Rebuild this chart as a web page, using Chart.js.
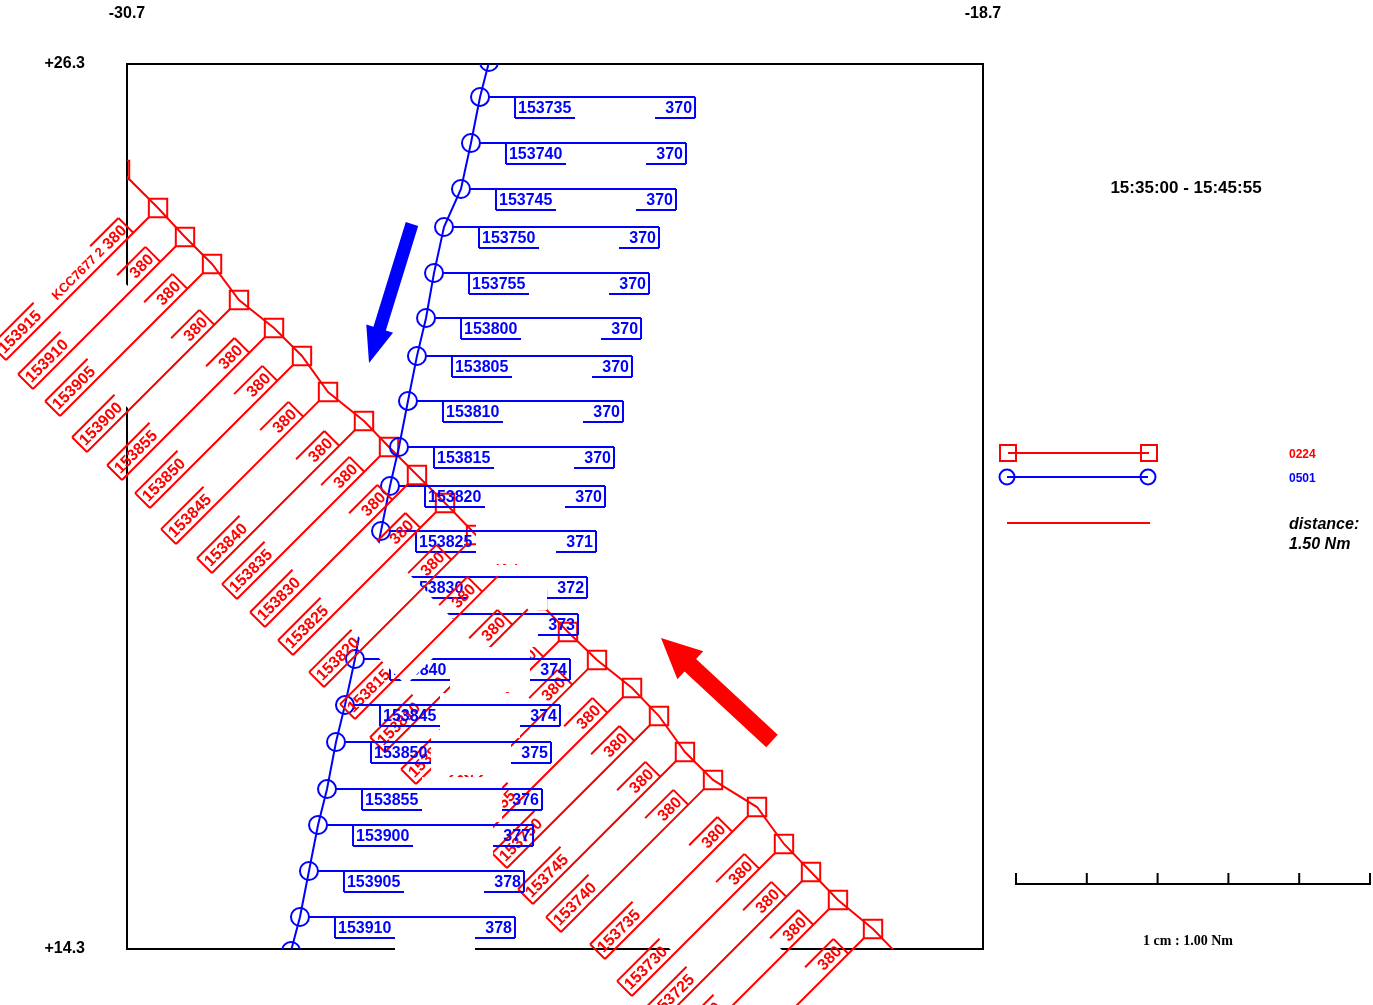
<!DOCTYPE html>
<html lang="en">
<head>
<meta charset="UTF-8">
<title>Track plot 0224 / 0501</title>
<script src="https://cdn.jsdelivr.net/npm/chart.js"></script>
<style>
  body { margin: 0; background: #fff; }
  #wrap { width: 1373px; height: 1005px; }
</style>
</head>
<body>
<div id="wrap"><canvas id="plot" width="1373" height="1005"></canvas></div>
<script>
// plot window and corner labels
const xRange = [-30.7, -18.7];
const yRange = [14.3, 26.3];
const xTickLabels = ['-30.7', '-18.7'];
const yTickLabels = ['+14.3', '+26.3'];

// track 0501 (blue, circles), top to bottom
const blueTimes = ['153730', '153735', '153740', '153745', '153750', '153755', '153800', '153805', '153810', '153815', '153820',
                   '153825', '153830', '153835', '153840', '153845', '153850', '153855', '153900', '153905', '153910', '153915'];
const blueX = [-25.625, -25.751, -25.878, -26.018, -26.256, -26.396, -26.508, -26.635, -26.761, -26.887, -27.013,
               -27.139, -27.265, -27.392, -27.504, -27.644, -27.770, -27.896, -28.022, -28.149, -28.275, -28.401];
const blueY = [26.327, 25.853, 25.229, 24.605, 24.090, 23.466, 22.856, 22.341, 21.731, 21.107, 20.578,
               19.968, 19.344, 18.842, 18.232, 17.608, 17.107, 16.469, 15.981, 15.358, 14.734, 14.273];
const blueFL = ['370', '370', '370', '370', '370', '370', '370', '370', '370', '370', '370',
                '371', '372', '373', '374', '374', '375', '376', '377', '378', '378', '378'];

// track 0224 (red, squares), top-left to bottom-right
const redTimes = ['153920', '153915', '153910', '153905', '153900', '153855', '153850', '153845', '153840', '153835', '153830',
                  '153825', '153820', '153815', '153810', '153805', '153800', '153755', '153750', '153745', '153740',
                  '153735', '153730', '153725', '153720', '153715', '153710'];
const redX = [-30.798, -30.265, -29.887, -29.508, -29.130, -28.639, -28.247, -27.882, -27.378, -27.027, -26.635,
              -26.242, -25.807, -25.373, -24.952, -24.518, -24.111, -23.620, -23.242, -22.878, -22.485,
              -21.868, -21.490, -21.111, -20.733, -20.242, -19.793];
const redY = [24.863, 24.347, 23.954, 23.588, 23.100, 22.720, 22.341, 21.853, 21.459, 21.107, 20.727,
              20.347, 19.914, 19.480, 19.032, 18.598, 18.219, 17.839, 17.459, 16.971, 16.592,
              16.225, 15.724, 15.344, 14.964, 14.571, 14.124];
const redFL = redTimes.map(() => '380');
const redCallsign = 'KCC7677 2';   // printed inside the newest red tag

// direction arrows: [tailX, tailY, tipX, tipY]
const blueArrow = [-26.705, 24.131, -27.307, 22.246];
const redArrow = [-21.658, 17.120, -23.214, 18.517];

const timeWindow = '15:35:00 - 15:45:55';
const legendNames = ['0224', '0501'];
const distanceText = ['distance:', '1.50 Nm'];
const scaleText = '1 cm : 1.00 Nm';

const RED = '#ff0000', BLUE = '#0000ff';
const TAG_FONT = 'bold 16px "Liberation Sans", Arial, sans-serif';
const redDrawDelay = 25;   // red tags are painted a little later than blue ones

function toPairs(xs, ys) {
    return xs.map((x, i) => ({ x: x, y: ys[i] }));
}

function timeKey(t) {
    return (+t.slice(0, 2)) * 3600 + (+t.slice(2, 4)) * 60 + (+t.slice(4, 6));
}

// one data block: leader, box ends, time on one end, level on the other, white middle
function drawTag(ctx, x, y, tag) {
    const s = tag.side;
    const uL = s > 0 ? 35 : -215, uR = s > 0 ? 215 : -35;
    const vT = s > 0 ? 0 : -21, vB = s > 0 ? 21 : 0;
    ctx.save();
    ctx.translate(x, y);
    ctx.rotate(tag.angle);
    ctx.fillStyle = '#fff';
    ctx.fillRect(uL + 60, vT - 12, uR - uL - 100, vB - vT + 24);
    ctx.strokeStyle = tag.color;
    ctx.lineWidth = 2;
    ctx.beginPath();
    ctx.moveTo(s * tag.gap, 0);
    ctx.lineTo(s > 0 ? uR : uL, 0);
    ctx.moveTo(uL, vT); ctx.lineTo(uL, vB);
    ctx.moveTo(uR, vT); ctx.lineTo(uR, vB);
    const ve = s > 0 ? vB : vT;
    ctx.moveTo(uL, ve); ctx.lineTo(uL + 60, ve);
    ctx.moveTo(uR - 40, ve); ctx.lineTo(uR, ve);
    ctx.stroke();
    ctx.fillStyle = tag.color;
    ctx.font = TAG_FONT;
    ctx.textBaseline = 'middle';
    const vm = (vT + vB) / 2 + 1;
    ctx.textAlign = 'left';
    ctx.fillText(tag.time, uL + 3, vm);
    ctx.textAlign = 'right';
    ctx.fillText(tag.fl, uR - 3, vm);
    if (tag.extra) {
        ctx.textAlign = 'center';
        ctx.font = 'bold 13px "Liberation Sans", Arial, sans-serif';
        ctx.fillText(tag.extra, uL + 112, vm);
    }
    ctx.restore();
}

function drawArrow(ctx, x0, y0, x1, y1, shaft, headW, headL, color) {
    const a = Math.atan2(y1 - y0, x1 - x0);
    const len = Math.hypot(x1 - x0, y1 - y0);
    ctx.save();
    ctx.translate(x0, y0);
    ctx.rotate(a);
    ctx.fillStyle = color;
    ctx.beginPath();
    ctx.moveTo(0, -shaft / 2);
    ctx.lineTo(len - headL, -shaft / 2);
    ctx.lineTo(len - headL, -headW / 2);
    ctx.lineTo(len, 0);
    ctx.lineTo(len - headL, headW / 2);
    ctx.lineTo(len - headL, shaft / 2);
    ctx.lineTo(0, shaft / 2);
    ctx.closePath();
    ctx.fill();
    ctx.restore();
}

const tagPlugin = {
    id: 'tags',
    afterDatasetsDraw(chart) {
        const ctx = chart.ctx, xs = chart.scales.x, ys = chart.scales.y, area = chart.chartArea;
        const tags = [];
        blueTimes.forEach((t, i) => tags.push({
            key: timeKey(t), x: blueX[i], y: blueY[i], time: t, fl: blueFL[i],
            color: BLUE, side: 1, angle: 0, gap: 9
        }));
        redTimes.forEach((t, i) => tags.push({
            key: timeKey(t) + redDrawDelay, x: redX[i], y: redY[i], time: t, fl: redFL[i],
            color: RED, side: -1, angle: -Math.PI / 4, gap: 13, extra: i === 1 ? redCallsign : null
        }));
        tags.sort((a, b) => a.key - b.key);
        tags.forEach(tag => {
            const px = xs.getPixelForValue(tag.x), py = ys.getPixelForValue(tag.y);
            if (px < area.left || px > area.right || py < area.top || py > area.bottom) return;
            drawTag(ctx, px, py, tag);
        });

        drawArrow(ctx, xs.getPixelForValue(blueArrow[0]), ys.getPixelForValue(blueArrow[1]),
            xs.getPixelForValue(blueArrow[2]), ys.getPixelForValue(blueArrow[3]), 13, 28, 36, BLUE);
        drawArrow(ctx, xs.getPixelForValue(redArrow[0]), ys.getPixelForValue(redArrow[1]),
            xs.getPixelForValue(redArrow[2]), ys.getPixelForValue(redArrow[3]), 17, 38, 40, RED);
    }
};

// right-hand panel: time window, track key, distance, scale bar
const sidePlugin = {
    id: 'side',
    afterDraw(chart) {
        const ctx = chart.ctx;
        ctx.save();
        ctx.fillStyle = '#000';
        ctx.textBaseline = 'middle';
        ctx.textAlign = 'center';
        ctx.font = 'bold 17px "Liberation Sans", Arial, sans-serif';
        ctx.fillText(timeWindow, 1186, 188);

        ctx.lineWidth = 2;
        ctx.strokeStyle = RED;
        ctx.beginPath();
        ctx.moveTo(1008, 453); ctx.lineTo(1149, 453);
        ctx.stroke();
        ctx.strokeRect(1000, 445, 16, 16);
        ctx.strokeRect(1141, 445, 16, 16);
        ctx.strokeStyle = BLUE;
        ctx.beginPath();
        ctx.moveTo(1007, 477); ctx.lineTo(1148, 477);
        ctx.stroke();
        ctx.beginPath(); ctx.arc(1007, 477, 7.5, 0, Math.PI * 2); ctx.stroke();
        ctx.beginPath(); ctx.arc(1148, 477, 7.5, 0, Math.PI * 2); ctx.stroke();
        ctx.strokeStyle = RED;
        ctx.beginPath();
        ctx.moveTo(1007, 523); ctx.lineTo(1150, 523);
        ctx.stroke();

        ctx.textAlign = 'left';
        ctx.font = 'bold 12px "Liberation Sans", Arial, sans-serif';
        ctx.fillStyle = RED;
        ctx.fillText(legendNames[0], 1289, 455);
        ctx.fillStyle = BLUE;
        ctx.fillText(legendNames[1], 1289, 479);
        ctx.fillStyle = '#000';
        ctx.font = 'italic bold 16px "Liberation Sans", Arial, sans-serif';
        ctx.fillText(distanceText[0], 1289, 525);
        ctx.fillText(distanceText[1], 1289, 545);

        ctx.strokeStyle = '#000';
        ctx.beginPath();
        ctx.moveTo(1016, 884); ctx.lineTo(1370, 884);
        for (let i = 0; i <= 5; i++) {
            const tx = 1016 + i * 70.8;
            ctx.moveTo(tx, 885); ctx.lineTo(tx, 873);
        }
        ctx.stroke();
        ctx.textAlign = 'center';
        ctx.font = 'bold 14px "Liberation Serif", "Times New Roman", serif';
        ctx.fillText(scaleText, 1188, 941);
        ctx.restore();
    }
};

const axisFont = { family: '"Liberation Sans", Arial, sans-serif', size: 16, weight: 'bold' };
const frame = { display: true, color: '#000', width: 2 };

new Chart(document.getElementById('plot'), {
    type: 'scatter',
    data: {
        datasets: [{
            label: legendNames[1],
            data: toPairs(blueX, blueY),
            showLine: true,
            borderColor: BLUE,
            borderWidth: 2,
            pointStyle: 'circle',
            pointRadius: 9,
            pointBorderWidth: 2,
            pointBorderColor: BLUE,
            pointBackgroundColor: 'rgba(0,0,0,0)'
        }, {
            label: legendNames[0],
            data: toPairs(redX, redY),
            showLine: true,
            borderColor: RED,
            borderWidth: 2,
            pointStyle: 'rect',
            pointRadius: 13,
            pointBorderWidth: 2,
            pointBorderColor: RED,
            pointBackgroundColor: 'rgba(0,0,0,0)'
        }]
    },
    options: {
        responsive: false,
        animation: false,
        events: [],
        layout: { padding: { top: 0, left: 0, right: 390, bottom: 56 } },
        plugins: { legend: { display: false }, tooltip: { enabled: false } },
        scales: {
            x: {
                type: 'linear', position: 'top', min: xRange[0], max: xRange[1],
                grid: { display: false, drawTicks: false },
                border: frame,
                afterBuildTicks: s => { s.ticks = xRange.map(v => ({ value: v })); },
                afterFit: s => { s.height = 64; },
                ticks: { padding: 41, autoSkip: false, maxRotation: 0, color: '#000', font: axisFont,
                         callback: (v, i) => xTickLabels[i] }
            },
            x2: {
                type: 'linear', position: 'bottom', min: xRange[0], max: xRange[1],
                grid: { display: false, drawTicks: false },
                border: frame,
                ticks: { display: false },
                afterFit: s => { s.height = 0; }
            },
            y: {
                type: 'linear', position: 'left', min: yRange[0], max: yRange[1],
                grid: { display: false, drawTicks: false },
                border: frame,
                afterBuildTicks: s => { s.ticks = yRange.map(v => ({ value: v })); },
                afterFit: s => { s.width = 127; },
                ticks: { padding: 42, autoSkip: false, color: '#000', font: axisFont,
                         callback: (v, i) => yTickLabels[i] }
            },
            y2: {
                type: 'linear', position: 'right', min: yRange[0], max: yRange[1],
                grid: { display: false, drawTicks: false },
                border: frame,
                ticks: { display: false },
                afterFit: s => { s.width = 0; }
            }
        }
    },
    plugins: [tagPlugin, sidePlugin]
});
</script>
</body>
</html>
